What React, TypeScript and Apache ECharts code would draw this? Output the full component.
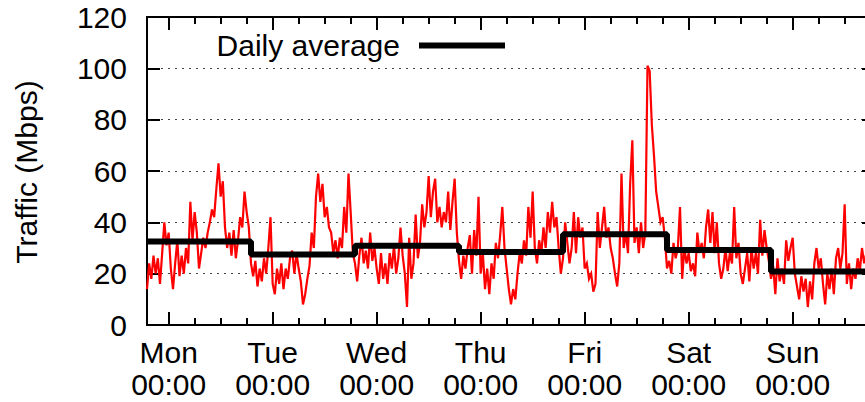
import React, { useEffect, useRef } from "react";
import * as echarts from "echarts";

// Hours relative to Monday 00:00; samples every half hour starting Sunday 19:00 (-5h)
const START_HOUR = -5;
const STEP_HOURS = 0.5;

const dayNames = ["Mon", "Tue", "Wed", "Thu", "Fri", "Sat", "Sun"];
const majorTicks = [0, 24, 48, 72, 96, 120, 144];
const minorTicks = [6, 12, 18, 30, 36, 42, 54, 60, 66, 78, 84, 90, 102, 108, 114, 126, 132, 138, 150, 156, 162];
const yTicks = [0, 20, 40, 60, 80, 100, 120];

const trafficDay1 = [14, 24, 18, 27, 20, 26, 16, 28, 40, 31, 36, 22, 14, 24, 33, 19, 27, 20, 30, 24, 48, 33, 44, 36, 22, 28, 34, 30, 36, 40, 45, 42, 53, 63, 50, 56, 38, 30, 36, 27, 37, 26, 33, 42, 38, 52, 44, 38];
const trafficDay2 = [24, 19, 25, 15, 22, 17, 26, 20, 30, 42, 16, 12, 22, 16, 24, 14, 22, 18, 26, 29, 20, 28, 22, 17, 8, 12, 18, 23, 36, 30, 50, 59, 48, 55, 42, 46, 38, 36, 28, 33, 26, 34, 30, 46, 36, 59, 44, 28];
const trafficDay3 = [24, 17, 27, 34, 24, 29, 22, 36, 25, 30, 22, 16, 28, 18, 24, 16, 28, 22, 31, 20, 26, 38, 27, 20, 7, 34, 18, 24, 43, 26, 32, 47, 38, 44, 58, 42, 52, 57, 40, 46, 38, 44, 40, 52, 37, 48, 57, 36];
const trafficDay4 = [25, 18, 27, 22, 30, 35, 20, 37, 27, 50, 20, 28, 14, 22, 12, 24, 18, 32, 26, 35, 46, 30, 22, 14, 8, 14, 10, 20, 28, 24, 33, 27, 46, 34, 52, 30, 24, 33, 28, 38, 30, 44, 36, 48, 38, 42, 30, 20];
const trafficDay5 = [26, 40, 32, 24, 30, 44, 28, 42, 34, 38, 22, 24, 18, 20, 13, 16, 44, 30, 38, 46, 34, 38, 30, 26, 20, 15, 24, 59, 30, 36, 28, 55, 72, 32, 38, 28, 40, 30, 36, 101, 99, 78, 66, 52, 46, 40, 42, 34];
const trafficDay6 = [22, 25, 20, 32, 26, 30, 46, 18, 30, 24, 28, 21, 24, 19, 36, 28, 32, 26, 38, 45, 32, 44, 28, 40, 24, 18, 22, 30, 21, 28, 24, 46, 26, 32, 20, 16, 22, 28, 17, 30, 22, 28, 20, 41, 27, 37, 30, 25];
const trafficDay7 = [18, 23, 12, 26, 17, 22, 16, 33, 25, 30, 34, 20, 15, 10, 19, 13, 18, 7, 17, 10, 24, 30, 22, 26, 16, 8, 20, 14, 22, 12, 26, 30, 22, 28, 47, 16, 24, 14, 22, 18, 26, 21, 30, 24, 28, 22, 31, 26];

// Daily averages (each day runs from 19:00 to 19:00)
const avgStartHours = [-5, 19, 43, 67, 91, 115, 139, 163];
const dailyAverage = [32.5, 27.5, 30.9, 28.4, 35.4, 29.2, 20.8];

const FONT = "'Liberation Sans', Arial, Helvetica, sans-serif";
const FS = 30;

export default function App() {
  const ref = useRef<HTMLDivElement>(null);

  useEffect(() => {
    if (!ref.current) return;
    const chart = echarts.init(ref.current, null, { renderer: "svg" });

    const allTraffic = [
      ...trafficDay1, ...trafficDay2, ...trafficDay3, ...trafficDay4,
      ...trafficDay5, ...trafficDay6, ...trafficDay7,
    ];
    const trafficData = allTraffic.map((v, i) => [START_HOUR + i * STEP_HOURS, v]);
    const avgData = avgStartHours.map((h, i) => [h, dailyAverage[Math.min(i, dailyAverage.length - 1)]]);

    const black = "#000";
    const baseX = {
      type: "value" as const,
      min: -5,
      max: 163,
      splitLine: { show: false },
    };

    chart.setOption({
      animation: false,
      grid: { left: 147, right: 2, top: 17, bottom: 77, show: false },
      xAxis: [
        {
          ...baseX,
          position: "bottom",
          axisLine: { show: true, onZero: false, lineStyle: { color: black, width: 2 } },
          axisTick: { show: true, inside: true, length: 13, customValues: majorTicks, lineStyle: { color: black, width: 2 } },
          axisLabel: {
            show: true,
            customValues: majorTicks,
            formatter: (v: number) => `${dayNames[Math.round(v / 24)]}\n00:00`,
            fontSize: FS,
            lineHeight: 32,
            color: black,
            fontFamily: FONT,
            margin: 11,
          },
        },
        {
          ...baseX,
          position: "bottom",
          axisLine: { show: false, onZero: false },
          axisTick: { show: true, inside: true, length: 7, customValues: minorTicks, lineStyle: { color: black, width: 2 } },
          axisLabel: { show: false },
        },
        {
          ...baseX,
          position: "top",
          axisLine: { show: true, onZero: false, lineStyle: { color: black, width: 2 } },
          axisTick: { show: true, inside: true, length: 13, customValues: majorTicks, lineStyle: { color: black, width: 2 } },
          axisLabel: { show: false },
        },
        {
          ...baseX,
          position: "top",
          axisLine: { show: false, onZero: false },
          axisTick: { show: true, inside: true, length: 7, customValues: minorTicks, lineStyle: { color: black, width: 2 } },
          axisLabel: { show: false },
        },
      ],
      yAxis: [
        {
          type: "value",
          min: 0,
          max: 120,
          interval: 20,
          position: "left",
          axisLine: { show: true, onZero: false, lineStyle: { color: black, width: 2 } },
          axisTick: { show: true, inside: true, length: 13, lineStyle: { color: black, width: 2 } },
          axisLabel: {
            show: true,
            fontSize: FS,
            color: black,
            fontFamily: FONT,
            margin: 20,
            formatter: (v: number) => (yTicks.includes(v) ? String(v) : ""),
          },
          splitLine: { show: true, lineStyle: { color: "#444", width: 1, type: [2, 5] } },
        },
        {
          type: "value",
          min: 0,
          max: 120,
          interval: 20,
          position: "right",
          axisLine: { show: true, onZero: false, lineStyle: { color: black, width: 2 } },
          axisTick: { show: true, inside: true, length: 13, lineStyle: { color: black, width: 2 } },
          axisLabel: { show: false },
          splitLine: { show: false },
        },
      ],
      series: [
        {
          name: "Traffic",
          type: "line",
          xAxisIndex: 0,
          yAxisIndex: 0,
          data: trafficData,
          showSymbol: false,
          symbol: "none",
          lineStyle: { color: "#ff0000", width: 2.2, join: "miter" },
          z: 2,
        },
        {
          name: "Daily average",
          type: "line",
          xAxisIndex: 0,
          yAxisIndex: 0,
          data: avgData,
          step: "end",
          showSymbol: false,
          symbol: "none",
          lineStyle: { color: black, width: 6 },
          z: 3,
        },
      ],
      graphic: [
        {
          type: "text",
          x: 26,
          y: 172,
          rotation: Math.PI / 2,
          style: {
            text: "Traffic (Mbps)",
            fontSize: FS,
            fontFamily: FONT,
            fill: black,
            align: "center",
            verticalAlign: "middle",
          },
        },
        {
          type: "text",
          x: 400,
          y: 45,
          style: {
            text: "Daily average",
            fontSize: FS,
            fontFamily: FONT,
            fill: black,
            align: "right",
            verticalAlign: "middle",
          },
          z: 10,
        },
        {
          type: "line",
          shape: { x1: 419, y1: 45.5, x2: 505, y2: 45.5 },
          style: { stroke: black, lineWidth: 6 },
          z: 10,
        },
      ],
    });

    return () => chart.dispose();
  }, []);

  return (
    <div style={{ position: "fixed", left: 0, top: 0, width: 865, height: 402, overflow: "hidden", background: "#fff" }}>
      <div ref={ref} style={{ width: 877, height: 402 }} />
    </div>
  );
}
